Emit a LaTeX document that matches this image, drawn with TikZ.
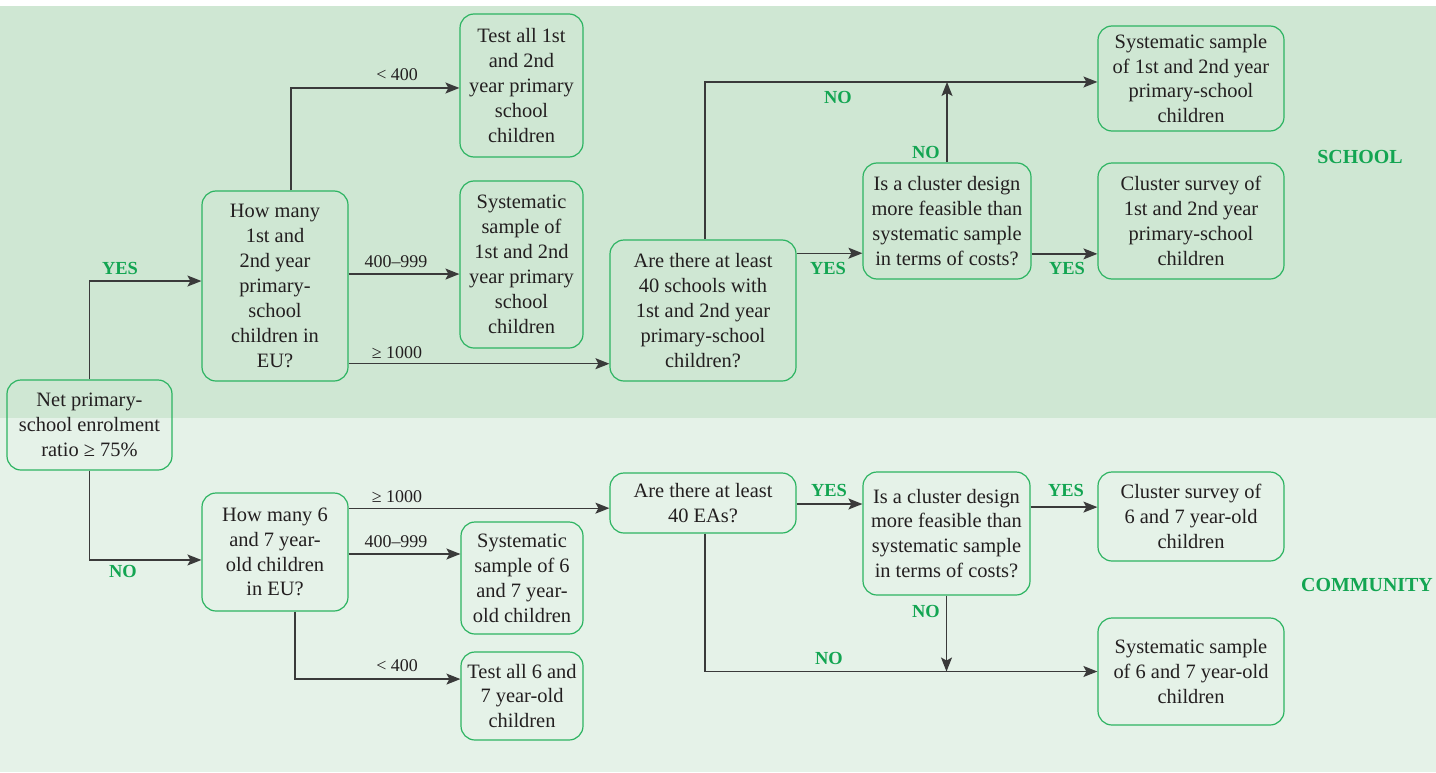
\documentclass[tikz,border=0pt]{standalone}
\usepackage{fontspec}
\setmainfont{Liberation Serif}
\usetikzlibrary{arrows.meta}
\definecolor{banddark}{HTML}{CFE7D3}
\definecolor{bandlight}{HTML}{E5F2E8}
\definecolor{boxgreen}{HTML}{2DB462}
\definecolor{labgreen}{HTML}{13A552}
\definecolor{ink}{HTML}{231F20}
\definecolor{wire}{HTML}{3A3A3A}
\tikzset{
  box/.style={draw=boxgreen, line width=1.2bp, rounded corners=14bp, align=center,
    inner sep=0pt, text=ink, font=\fontsize{20.5}{25}\selectfont},
  arr/.style={draw=wire, line width=1.3bp, -{Stealth[length=14bp,width=11bp,inset=3bp]}},
  yn/.style={text=labgreen, font=\fontsize{18.5}{20}\selectfont\bfseries, inner sep=0pt},
  num/.style={text=ink, font=\fontsize{18}{20}\selectfont, inner sep=0pt},
  zone/.style={text=labgreen, font=\fontsize{20}{22}\selectfont\bfseries, inner sep=0pt}
}
\begin{document}
\begin{tikzpicture}[x=1bp,y=-1bp]
\useasboundingbox (0,0) rectangle (1436,772);
% two background bands
\fill[banddark] (0,6) rectangle (1436,418);
\fill[bandlight] (0,418) rectangle (1436,772);

% ---- school branch ----
\node[box, minimum width=165bp, minimum height=90bp] (N0) at (89.5,425)
  {Net primary-\\school enrolment\\ratio ≥ 75\%};
\node[box, minimum width=146bp, minimum height=190bp] (Q1) at (275,286)
  {How many\\1st and\\2nd year\\primary-\\school\\children in\\EU?};
\node[box, minimum width=123bp, minimum height=143bp] (T1) at (521.5,85.5)
  {Test all 1st\\and 2nd\\year primary\\school\\children};
\node[box, minimum width=123bp, minimum height=167bp] (S1) at (521.5,264.5)
  {Systematic\\sample of\\1st and 2nd\\year primary\\school\\children};
\node[box, minimum width=186bp, minimum height=141bp] (A1) at (703,310.5)
  {Are there at least\\40 schools with\\1st and 2nd year\\primary-school\\children?};
\node[box, minimum width=168bp, minimum height=116bp] (C1) at (947,221)
  {Is a cluster design\\more feasible than\\systematic sample\\in terms of costs?};
\node[box, minimum width=186bp, minimum height=105bp] (R1) at (1191,78.5)
  {Systematic sample\\of 1st and 2nd year\\primary-school\\children};
\node[box, minimum width=186bp, minimum height=116bp] (R2) at (1191,221)
  {Cluster survey of\\1st and 2nd year\\primary-school\\children};
\node[zone] (Lschool) at (1360,157) {SCHOOL};

% ---- community branch ----
\node[box, minimum width=146bp, minimum height=118bp] (Q2) at (275,552)
  {How many 6\\and 7 year-\\old children\\in EU?};
\node[box, minimum width=186bp, minimum height=60bp] (A2) at (703,503)
  {Are there at least\\40 EAs?};
\node[box, minimum width=122bp, minimum height=112bp] (S2) at (522,578)
  {Systematic\\sample of 6\\and 7 year-\\old children};
\node[box, minimum width=122bp, minimum height=88bp] (T2) at (522,696)
  {Test all 6 and\\7 year-old\\children};
\node[box, minimum width=167bp, minimum height=123bp] (C2) at (946.5,533.5)
  {Is a cluster design\\more feasible than\\systematic sample\\in terms of costs?};
\node[box, minimum width=186bp, minimum height=89bp] (R3) at (1191,516.5)
  {Cluster survey of\\6 and 7 year-old\\children};
\node[box, minimum width=186bp, minimum height=107bp] (R4) at (1191,671.5)
  {Systematic sample\\of 6 and 7 year-old\\children};
\node[zone] (Lcommunity) at (1367,585) {COMMUNITY};

% ---- connectors, school branch ----
\draw[arr] (N0.north) |- ([yshift=5]Q1.west);
\draw[arr] ([xshift=16]Q1.north) |- ([yshift=-2.5]T1.west);
\draw[arr] ([yshift=12]Q1.east) -- ([yshift=12]Q1.east -| S1.west);
\draw[arr] ([yshift=-78]Q1.east) -- ([yshift=-78]Q1.east -| A1.west);
\coordinate (r1in) at ([yshift=-3.5]R1.west);
\draw[arr] ([xshift=2]A1.north) |- (r1in);
\draw[arr] ([yshift=57.5]A1.east) -- ([yshift=57.5]A1.east -| C1.west);
\draw[arr] (C1.north) -- (C1.north |- r1in);
\draw[arr] ([yshift=-33]C1.east) -- ([yshift=-33]C1.east -| R2.west);

% ---- connectors, community branch ----
\draw[arr] (N0.south) |- ([yshift=-8]Q2.west);
\draw[arr] ([yshift=44]Q2.east) -- ([yshift=44]Q2.east -| A2.west);
\draw[arr] ([yshift=-2]Q2.east) -- ([yshift=-2]Q2.east -| S2.west);
\draw[arr] ([xshift=20]Q2.south) |- ([yshift=17]T2.west);
\draw[arr] ([yshift=-1]A2.east) -- ([yshift=-1]A2.east -| C2.west);
\draw[arr] ([yshift=26.5]C2.east) -- ([yshift=26.5]C2.east -| R3.west);
\coordinate (r4in) at (R4.west);
\draw[arr] ([xshift=2]A2.south) |- (r4in);
\draw[arr] (C2.south) -- (C2.south |- r4in);

% ---- branch labels ----
\node[yn] (yes0) at (120,268) {YES};
\node[yn] (no0) at (123,571) {NO};
\node[num] (lt1) at (397,75) {< 400};
\node[num] (mid1) at (396,262) {400–999};
\node[num] (ge1) at (397,353) {≥ 1000};
\node[yn] (noA1) at (838,97) {NO};
\node[yn] (yesA1) at (828,268) {YES};
\node[yn] (noC1) at (926,152) {NO};
\node[yn] (yesC1) at (1067,268) {YES};
\node[num] (ge2) at (397,497) {≥ 1000};
\node[num] (mid2) at (396,542) {400–999};
\node[num] (lt2) at (397,666) {< 400};
\node[yn] (yesA2) at (829,490) {YES};
\node[yn] (yesC2) at (1066,490) {YES};
\node[yn] (noC2) at (926,611) {NO};
\node[yn] (noA2) at (829,658) {NO};
\end{tikzpicture}
\end{document}
